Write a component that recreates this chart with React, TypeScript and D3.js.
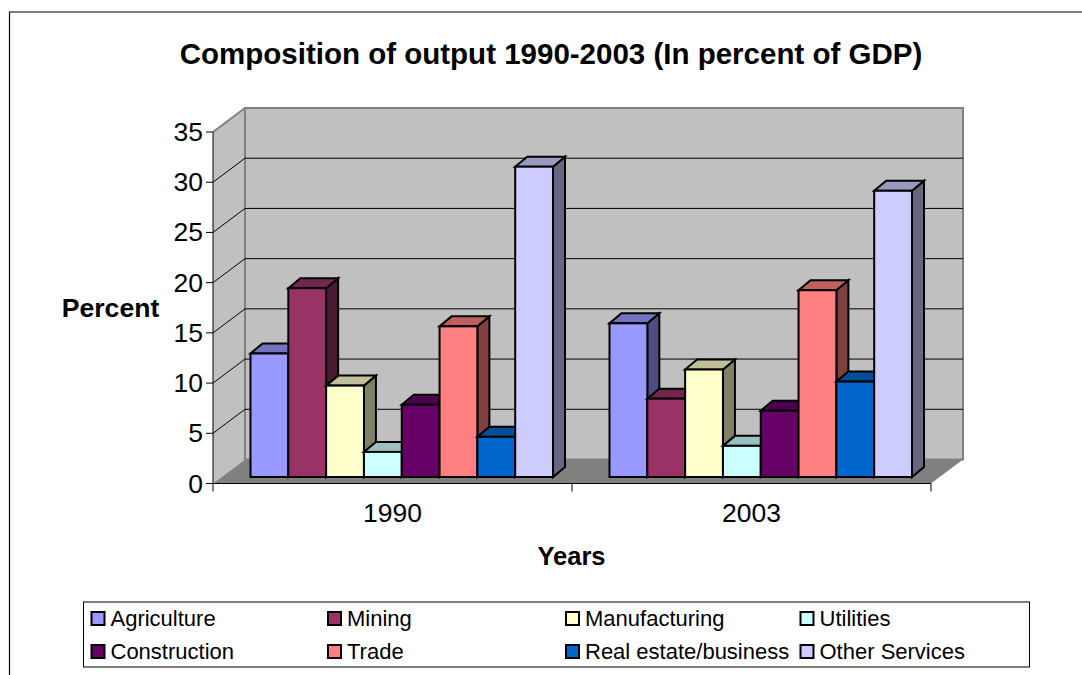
import React from "react";
import * as d3 from "d3";

const years = ["1990", "2003"];
const seriesNames = ["Agriculture", "Mining", "Manufacturing", "Utilities", "Construction", "Trade", "Real estate/business", "Other Services"];
const values1990 = [12.3, 18.8, 9.1, 2.5, 7.2, 15, 4, 30.9];
const values2003 = [15.3, 7.8, 10.7, 3.1, 6.6, 18.6, 9.5, 28.5];
const yTicks = [0, 5, 10, 15, 20, 25, 30, 35];
const fills = ["#9999ff", "#993366", "#ffffcc", "#ccffff", "#660066", "#ff8080", "#0066cc", "#ccccff"];

const shade = (hex: string, k: number) => {
  const c = d3.rgb(hex);
  return d3.rgb(c.r * k, c.g * k, c.b * k).formatHex();
};

const FONT = "'Liberation Sans', Arial, sans-serif";

const y = d3.scaleLinear().domain([0, 35]).range([483.5, 132]);
const x0 = d3.scaleBand<string>().domain(years).range([213, 931]);
const DX = 32, DY = -24;
const barDX = 12, barDY = -10;
const baseShift = y(0) - 477;

const xBar = d3.scaleBand<number>().domain(d3.range(8)).range([37.5, 340]);

export default function App() {
  const rows = [values1990, values2003];
  const poly = (pts: number[][]) => pts.map((p) => p.join(",")).join(" ");
  return (
    <svg width={1082} height={675} style={{ position: "absolute", left: 0, top: 0, background: "#fff" }} fontFamily={FONT}>
      <path d="M9.5,675V12H1082" fill="none" stroke="#000" strokeWidth={1.2} />
      <text x={551} y={64} textAnchor="middle" fontSize={29.5} fontWeight="bold">Composition of output 1990-2003 (In percent of GDP)</text>

      {/* walls */}
      <polygon points={poly([[213, y(35)], [213 + DX, y(35) + DY], [213 + DX, y(0) + DY], [213, y(0)]])} fill="#c0c0c0" />
      <polygon points={poly([[213 + DX, y(35) + DY], [931 + DX, y(35) + DY], [931 + DX, y(0) + DY], [213 + DX, y(0) + DY]])} fill="#c0c0c0" stroke="#808080" strokeWidth={2} />
      <polygon points={poly([[213, y(0)], [931, y(0)], [931 + DX, y(0) + DY], [213 + DX, y(0) + DY]])} fill="#808080" />
      <polyline points={poly([[213, y(35)], [213 + DX, y(35) + DY]])} stroke="#808080" strokeWidth={2} fill="none" />
      {yTicks.slice(1, -1).map((t) => (
        <path key={t} d={`M213,${y(t)}L${213 + DX},${y(t) + DY}H${931 + DX}`} fill="none" stroke="#000" strokeWidth={1} />
      ))}

      {/* axes */}
      <line x1={213} x2={213} y1={y(35)} y2={y(0)} stroke="#000" />
      <line x1={213} x2={931} y1={y(0)} y2={y(0)} stroke="#000" />
      {yTicks.map((t) => (
        <g key={t}>
          <line x1={206} x2={213} y1={y(t)} y2={y(t)} stroke="#000" />
          <text x={203} y={y(t) + 9} textAnchor="end" fontSize={26.5}>{t}</text>
        </g>
      ))}
      {[213, x0(years[1])!, 931].map((v) => (
        <line key={v} x1={v} x2={v} y1={y(0)} y2={y(0) + 8} stroke="#000" />
      ))}
      {years.map((yr) => (
        <text key={yr} x={x0(yr)! + x0.bandwidth() / 2} y={522} textAnchor="middle" fontSize={26.5}>{yr}</text>
      ))}

      {/* bars */}
      {years.map((yr, gi) => (
        <g key={yr}>
          {rows[gi].map((v, i) => {
            const gx = x0(yr)! + xBar(i)!;
            const w = xBar.bandwidth();
            const t = y(v) - baseShift;
            const b = y(0) - baseShift;
            return (
              <g key={i} stroke="#000" strokeWidth={2} strokeLinejoin="miter">
                <polygon points={poly([[gx + w, t], [gx + w + barDX, t + barDY], [gx + w + barDX, b + barDY], [gx + w, b]])} fill={shade(fills[i], 0.5)} />
                <polygon points={poly([[gx, t], [gx + barDX, t + barDY], [gx + w + barDX, t + barDY], [gx + w, t]])} fill={shade(fills[i], 0.75)} />
                <rect x={gx} y={t} width={w} height={b - t} fill={fills[i]} />
              </g>
            );
          })}
        </g>
      ))}

      <text x={110.5} y={317} textAnchor="middle" fontSize={26.6} fontWeight="bold">Percent</text>
      <text x={571.5} y={565} textAnchor="middle" fontSize={25.5} fontWeight="bold">Years</text>

      {/* legend */}
      <rect x={83.5} y={602} width={946} height={65} fill="#fff" stroke="#000" />
      {seriesNames.map((n, i) => {
        const col = i % 4, row = Math.floor(i / 4);
        const lx = [91.5, 328, 566, 800.5][col];
        const ly = row === 0 ? 612 : 645;
        return (
          <g key={n}>
            <rect x={lx} y={ly} width={13} height={13} fill={fills[i]} stroke="#000" strokeWidth={2} />
            <text x={lx + 19} y={ly + 14} fontSize={22}>{n}</text>
          </g>
        );
      })}
    </svg>
  );
}
